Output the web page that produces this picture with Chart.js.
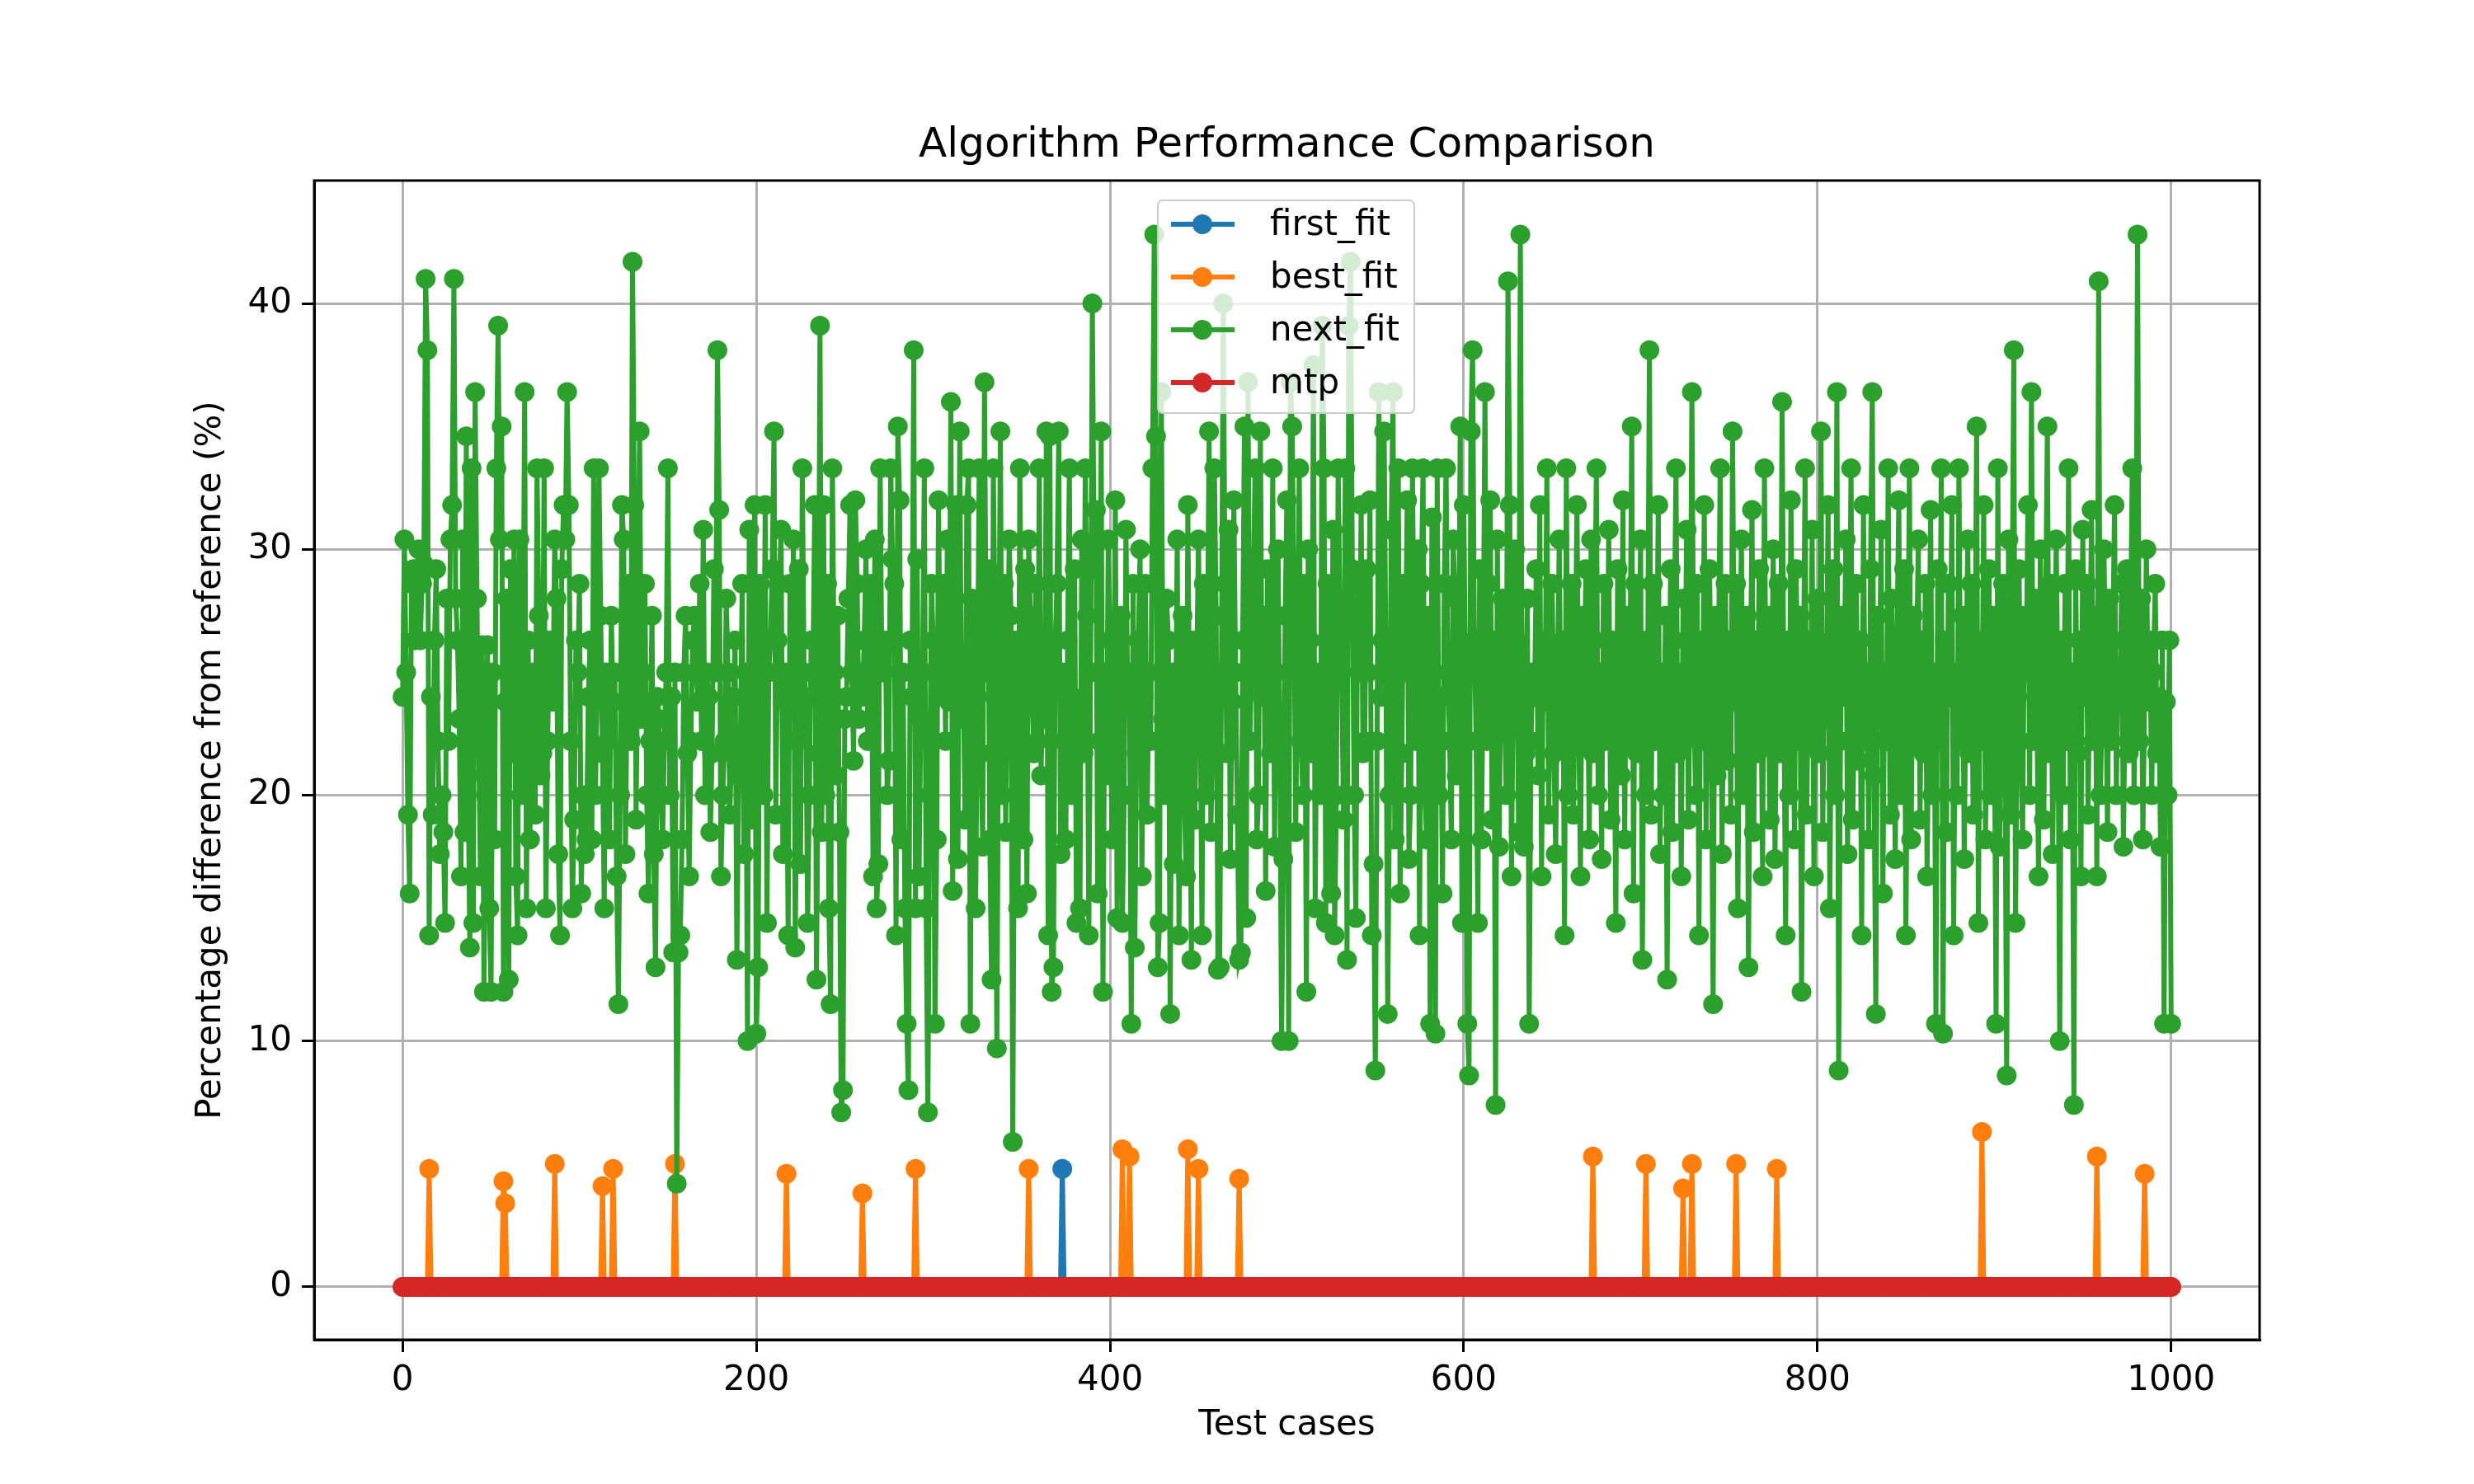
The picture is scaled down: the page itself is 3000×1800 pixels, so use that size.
<!DOCTYPE html>
<html>
<head>
<meta charset="utf-8">
<script src="https://cdn.jsdelivr.net/npm/chart.js@4/dist/chart.umd.min.js"></script>
<style>
  html, body { margin: 0; padding: 0; background: #fff; }
  #wrap { width: 3000px; height: 1800px; }
</style>
</head>
<body>
<div id="wrap"><canvas id="chart" width="3000" height="1800"></canvas></div>
<script>
// --- datos ---
const seriesNames = ['first_fit', 'best_fit', 'next_fit', 'mtp'];
const seriesColors = ['#1f77b4', '#ff7f0e', '#2ca02c', '#d62728'];
const nCases = 1001;

// first_fit: solo un pico distinto de cero
const firstFitIdx = [373];
const firstFitVal = [4.8];

// best_fit: picos distintos de cero
const bestFitIdx = [15, 57, 58, 86, 113, 119, 154, 217, 260, 290, 354, 407, 411, 444, 450, 473, 673, 703, 724, 729, 754, 777, 893, 958, 985];
const bestFitVal = [4.8, 4.3, 3.4, 5.0, 4.1, 4.8, 5.0, 4.6, 3.8, 4.8, 4.8, 5.6, 5.3, 5.6, 4.8, 4.4, 5.3, 5.0, 4.0, 5.0, 5.0, 4.8, 6.3, 5.3, 4.6];

// mtp: todo en cero
const mtpVal = [];

// next_fit: valores por caso de prueba
const nextFitVal = [
24,30.4,25,19.2,16,28.6,29.2,26.3,28.6,30,26.3,28.6,29.4,41,38.1,14.3,24,19.2,26.3,29.2,22.2,17.6,20,18.5,14.8,
28,22.2,30.4,31.8,41,28,26.3,23.1,16.7,30.4,18.5,34.6,20.8,13.8,33.3,14.8,36.4,28,22.2,16.7,26.1,12,20,26.1,15.4,
12,25,18.2,33.3,39.1,30.4,35,12,23.8,28,12.5,29.2,21.7,30.4,16.7,14.3,30.4,20,24,36.4,15.4,26.3,18.2,25,22.2,
19.2,33.3,27.3,20.8,21.7,33.3,15.4,22.2,26.3,25,23.8,30.4,28,17.6,14.3,29.2,31.8,30.4,36.4,31.8,22.2,15.4,19,26.3,25,
28.6,16,20,17.6,18.2,24,26.3,18.2,33.3,20,24,33.3,27.3,21.7,15.4,25,22.2,18.2,27.3,23.8,25,16.7,11.5,20,31.8,
30.4,17.6,25,28.6,22.2,41.7,31.8,19,26.3,34.8,23.1,25,28.6,20,16,22.2,27.3,17.6,13,24,23.1,20,18.2,22.2,25,
33.3,20,24,13.6,25,4.2,13.6,14.3,18.2,25,27.3,21.7,16.7,22.2,26.3,27.3,25,23.8,28.6,22.2,30.8,20,25,24,18.5,
21.7,29.2,25,38.1,31.6,16.7,20,22.2,28,25,19.2,21.7,24,26.3,13.3,20.8,22.2,28.6,17.6,25,10,30.8,19,25,31.8,
10.3,13,28.6,25,20,31.8,14.8,25,26.3,29.2,34.8,19.2,26.3,28.6,30.8,17.6,25,23.8,14.3,28.6,25,30.4,13.8,22.2,29.2,
17.2,33.3,25,24,14.8,20,26.3,25,31.8,12.5,21.7,39.1,18.5,31.8,20,28.6,15.4,11.5,33.3,25,20.8,27.3,18.5,7.1,8,
23.1,24,28,31.8,25,21.4,32,28.6,23.1,25,24,26.3,30,22.2,25,28.6,16.7,30.4,15.4,17.2,33.3,25,25,26.3,20,
21.4,33.3,29.6,28.6,14.3,35,32,18.2,25,15.4,10.7,8,26.3,24,38.1,15.4,29.6,16.7,23.1,25,33.3,15.4,7.1,20,28.6,
26.3,10.7,18.2,32,25,24,28.6,22.2,30.4,23.8,36,16.1,25,31.8,17.4,34.8,23.1,25,19,31.8,33.3,10.7,28,27.3,15.4,
24,33.3,21.7,17.9,36.8,25,29.2,18.2,12.5,33.3,26.3,9.7,23.8,34.8,20,28.6,18.5,25,30.4,27.3,5.9,22.2,26.3,15.4,33.3,
25,18.2,29.2,16,30.4,27.3,24,21.7,28.6,22.2,33.3,20.8,25,23.1,34.8,14.3,34.6,12,13,26.3,28.6,34.8,17.6,25,22.2,
18.2,26.3,33.3,20,24,29.2,14.8,23.8,15.4,30.4,21.7,33.3,27.3,14.3,25,40,29.2,31.6,16,22.2,34.8,12,25,20.8,30.4,
26.3,18.2,22.2,32,15,25,27.3,14.8,20,30.8,23.8,25,10.7,28.6,13.8,21.7,26.3,30,16.7,24,28.6,19.2,25,22.2,33.3,
42.8,34.6,13,14.8,36.4,23.1,20,28,26.3,11.1,25,17.2,22.2,30.4,14.3,25,27.3,20,16.7,31.8,22.2,13.3,26.3,19,25,
30.4,23.8,14.3,28.6,20,25,34.8,18.5,22.2,33.3,27.3,12.9,13,25,40,28.6,21.7,30.8,17.4,23.8,32,25,19.2,13.3,13.6,
26.3,35,15,36.8,22.2,25,28.6,33.3,18.2,20,34.8,24,27.3,16.1,29.2,25,21.7,33.3,17.9,25,30,22.2,10,17.4,27.3,
32,10,36.8,35,28,18.5,25,33.3,22.2,20,28.6,12,30,26.3,21.7,37.5,15.4,25,23.8,20,39.1,33.3,14.8,28.6,25,
16,30.8,14.3,20,33.3,27.3,25,19,33.3,13.3,39.1,41.7,29.2,20,15,28.6,25,31.8,21.7,22.2,29.2,25,32,14.3,17.2,
8.8,22.2,36.4,24,26.3,34.8,25,11.1,20,30.8,36.4,18.2,25,33.3,16,21.7,28.6,25,32,17.4,20,33.3,25,22.2,30,
14.3,28.6,33.3,20,18.2,27.3,10.7,31.3,25,10.3,33.3,20,24,16,28.6,33.3,25,22.2,18.2,30.4,28,20.8,23.8,35,14.8,
31.8,25,10.7,8.6,34.8,38.1,26.3,22.2,14.8,29.2,18.2,25,36.4,22.2,28.6,32,19,26.3,7.4,30.4,17.9,25,28,23.8,20,
40.9,31.8,16.7,25,30,26.3,18.5,42.8,23.8,17.9,21.7,28,10.7,22.2,25,24,29.2,20.8,31.8,16.7,26.3,23.8,33.3,19.2,25,
28.6,21.7,17.6,25,30.4,22.2,26.3,14.3,33.3,20,24,28.6,19.2,25,31.8,23.1,16.7,27.3,22.2,29.2,25,18.2,30.4,21.7,26.3,
33.3,20,25,17.4,28.6,22.2,24,30.8,19,26.3,23.8,14.8,29.2,25,20.8,32,18.2,27.3,22.2,25,35,16,28.6,21.7,24,
30.4,13.3,26.3,20,25,38.1,19.2,28.6,22.2,24,31.8,17.6,25,20,27.3,12.5,23.8,29.2,18.5,26.3,33.3,21.7,25,16.7,28,
22.2,30.8,19,24,36.4,25,20,28.6,14.3,26.3,22.2,31.8,18.2,25,29.2,23.1,11.5,27.3,20.8,25,33.3,17.6,24,28.6,21.4,
26.3,19.2,34.8,23.8,28.6,15.4,25,30.4,20,22.2,27.3,13,24,31.6,18.5,26.3,21.7,29.2,25,16.7,33.3,22.2,27.3,19,24,
30,17.4,25,28.6,21.7,36,23.8,14.3,26.3,20,32,25,18.2,29.2,22.2,27.3,12,24,33.3,19.2,26.3,22.2,30.8,16.7,25,
28,21.7,34.8,18.5,25,23.1,31.8,15.4,26.3,29.2,20,36.4,8.8,22.2,27.3,24,30.4,17.6,25,33.3,19,23.8,28.6,21.4,26.3,
14.3,31.8,22.2,25,18.2,29.2,36.4,20.8,11.1,27.3,23.8,30.8,16,25,22.2,33.3,19.2,28,24,17.4,26.3,32,20,25,29.2,
14.3,23.8,33.3,18.2,27.3,22.2,25,30.4,19,26.3,21.7,28.6,16.7,24,31.6,20,25,10.7,29.2,22.2,33.3,10.3,26.3,18.5,28.6,
24,31.8,14.3,25,20,33.3,22.2,27.3,17.4,25,30.4,21.7,28.6,19.2,24,35,14.8,26.3,22.2,31.8,18.2,25,29.2,20,27.3,
23.8,10.7,33.3,17.9,25,28.6,21.7,8.6,30.4,19.2,26.3,38.1,14.8,24,29.2,22.2,18.2,27.3,25,31.8,20,36.4,22.2,28,24,
16.7,30,25,19,27.3,35,21.7,28.6,17.6,24,30.4,23.8,10,26.3,20,28.6,22.2,33.3,18.2,25,7.4,29.2,21.7,26.3,16.7,
30.8,24,28.6,19.2,25,31.6,22.2,27.3,16.7,40.9,20,24,30,25,18.5,28,22.2,26.3,31.8,20,25,23.8,28.6,17.9,24,
29.2,21.7,26.3,33.3,20,25,42.8,22.2,28,18.2,24,30,23.8,26.3,20,25,28.6,21.7,24,17.9,26.3,10.7,23.8,20,26.3,
10.7
];

const xTicks = [0, 200, 400, 600, 800, 1000];
const yTicks = [0, 10, 20, 30, 40];

// Construye una serie completa de ceros con picos en los índices dados
function sparseSeries(idx, vals) {
    const out = [];
    for (let i = 0; i < nCases; i++) out.push({ x: i, y: 0 });
    idx.forEach((k, j) => { out[k].y = vals[j]; });
    return out;
}

const seriesData = [
    sparseSeries(firstFitIdx, firstFitVal),
    sparseSeries(bestFitIdx, bestFitVal),
    nextFitVal.map((v, i) => ({ x: i, y: v })),
    sparseSeries([], mtpVal)
];

const FONT = 'DejaVu Sans';

// Textos (título, ejes) y leyenda dentro del área del gráfico
const overlayPlugin = {
    id: 'overlay',
    afterDraw(chart) {
        const c = chart.ctx;
        const a = chart.chartArea;
        c.save();
        c.fillStyle = '#000';
        c.textAlign = 'center';
        c.textBaseline = 'middle';
        c.font = `50px "${FONT}"`;
        c.fillText('Algorithm Performance Comparison', (a.left + a.right) / 2, 177);
        c.font = `42px "${FONT}"`;
        c.fillText('Test cases', (a.left + a.right) / 2, 1729);
        c.translate(256, (a.top + a.bottom) / 2);
        c.rotate(-Math.PI / 2);
        c.fillText('Percentage difference from reference (%)', 0, 0);
        c.restore();

        // leyenda
        c.save();
        const bx = 1404, by = 243, bw = 311, bh = 258;
        c.fillStyle = 'rgba(255,255,255,0.8)';
        c.strokeStyle = '#cccccc';
        c.lineWidth = 2;
        c.beginPath();
        c.roundRect(bx, by, bw, bh, 6);
        c.fill();
        c.stroke();
        c.font = `42px "${FONT}"`;
        c.textAlign = 'left';
        c.textBaseline = 'middle';
        seriesNames.forEach((name, i) => {
            const y = 272 + i * 64;
            c.strokeStyle = seriesColors[i];
            c.lineWidth = 6;
            c.beginPath();
            c.moveTo(1420, y);
            c.lineTo(1497, y);
            c.stroke();
            c.fillStyle = seriesColors[i];
            c.beginPath();
            c.arc(1458, y, 12, 0, Math.PI * 2);
            c.fill();
            c.fillStyle = '#000';
            c.fillText(name, 1540, y + 2);
        });
        c.restore();
    }
};

new Chart(document.getElementById('chart'), {
    type: 'line',
    data: {
        datasets: seriesNames.map((name, i) => ({
            label: name,
            data: seriesData[i],
            borderColor: seriesColors[i],
            backgroundColor: seriesColors[i],
            pointBackgroundColor: seriesColors[i],
            pointBorderWidth: 0,
            pointRadius: 12,
            borderWidth: 6,
            tension: 0,
            fill: false,
            order: 4 - i
        }))
    },
    options: {
        responsive: false,
        animation: false,
        devicePixelRatio: 1,
        layout: { padding: { left: 0, right: 260, top: 219, bottom: 0 } },
        plugins: {
            legend: { display: false },
            title: { display: false },
            tooltip: { enabled: false }
        },
        scales: {
            x: {
                type: 'linear',
                min: -50,
                max: 1050,
                afterBuildTicks: s => { s.ticks = xTicks.map(v => ({ value: v })); },
                afterFit: s => { s.height = 175; },
                grid: { color: '#b0b0b0', lineWidth: 3, tickColor: '#000', tickWidth: 3, tickLength: 15 },
                border: { color: '#000', width: 3 },
                ticks: { color: '#000', font: { family: FONT, size: 42 }, padding: 10, maxRotation: 0,
                         callback: v => String(v) }
            },
            y: {
                type: 'linear',
                min: -2.15,
                max: 45,
                afterBuildTicks: s => { s.ticks = yTicks.map(v => ({ value: v })); },
                afterFit: s => { s.width = 381; },
                grid: { color: '#b0b0b0', lineWidth: 3, tickColor: '#000', tickWidth: 3, tickLength: 15 },
                border: { color: '#000', width: 3 },
                ticks: { color: '#000', font: { family: FONT, size: 42 }, padding: 12,
                         callback: v => String(v) }
            }
        }
    },
    plugins: [overlayPlugin, {
        id: 'frame',
        afterDatasetsDraw(chart) {
            const c = chart.ctx, a = chart.chartArea;
            c.save();
            c.strokeStyle = '#000';
            c.lineWidth = 3;
            c.strokeRect(a.left, a.top, a.right - a.left, a.bottom - a.top);
            c.restore();
        }
    }]
});
</script>
</body>
</html>
